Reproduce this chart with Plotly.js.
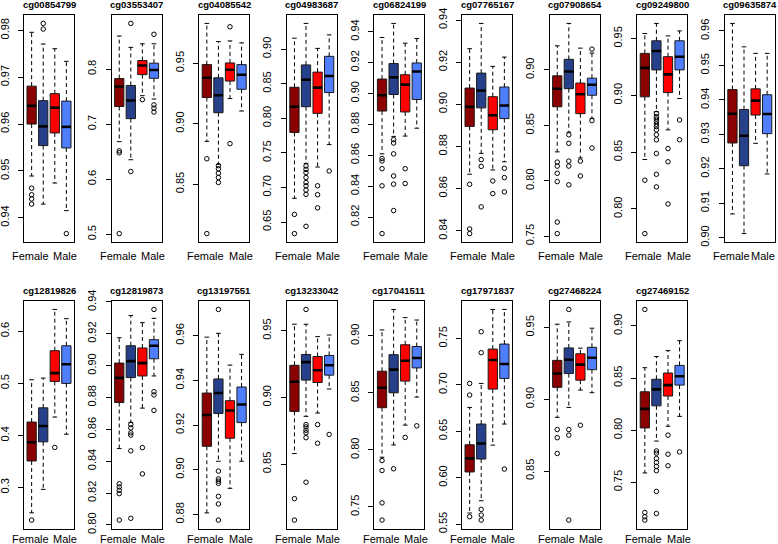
<!DOCTYPE html>
<html><head><meta charset="utf-8">
<script src="https://cdn.plot.ly/plotly-3.0.1.min.js"></script>
<style>html,body{margin:0;padding:0;background:#fff;overflow:hidden}#chart{width:778px;height:544px}</style>
</head><body><div id="chart"></div>
<script>
// ---------------- data ----------------
const probes = ['cg00854799','cg03553407','cg04085542','cg04983687','cg06824199','cg07765167','cg07908654','cg09249800','cg09635874',
                'cg12819826','cg12819873','cg13197551','cg13233042','cg17041511','cg17971837','cg27468224','cg27469152'];
const groups = ['Female (set 1)','Female (set 2)','Male (set 1)','Male (set 2)'];
const groupColors = ['#8B0000','#27408B','#FF0000','#4F7FFF'];
const xTickLabels = ['Female','Male'];
const xTickPositions = [1, 4];
const yTickStep = [0.01,0.1,0.05,0.05,0.02,0.02,0.05,0.05,0.01, 0.1,0.02,0.02,0.05,0.05,0.05,0.05,0.05];

const upperWhisker = [
 [0.9796,0.9771,0.9761,0.9734],[0.860,0.8394,0.8459,0.8459],[0.983,0.968,0.9685,0.9669],[0.9157,0.9371,0.901,0.9205],
 [0.9362,0.9453,0.9325,0.9355],[0.9264,0.9384,0.918,0.9224],[0.9218,0.942,0.9197,0.9152],[0.9544,0.9633,0.9523,0.9567],
 [0.9622,0.9554,0.9535,0.9535],[0.5068,0.51,0.6419,0.6241],[0.9175,0.9315,0.927,0.9297],[0.9593,0.961,0.9468,0.9516],
 [0.9549,0.9549,0.9456,0.9468],[0.9052,0.9232,0.916,0.9139],[0.6757,0.7015,0.7812,0.7812],[0.9523,0.9539,0.9356,0.9495],
 [0.8599,0.8706,0.8763,0.8858]];
const q3 = [
 [0.9681,0.9650,0.9665,0.9649],[0.7827,0.7702,0.8155,0.8107],[0.9489,0.938,0.9503,0.9489],[0.8448,0.8771,0.8667,0.8895],
 [0.9093,0.9193,0.9121,0.9197],[0.9077,0.9148,0.9036,0.9082],[0.8947,0.9096,0.8882,0.8926],[0.9369,0.948,0.934,0.948],
 [0.943,0.9372,0.9432,0.9415],[0.4256,0.4529,0.5626,0.5721],[0.9016,0.9125,0.9111,0.9163],[0.9343,0.9406,0.9309,0.937],
 [0.9241,0.9322,0.9307,0.9315],[0.869,0.8835,0.8922,0.8907],[0.6355,0.6578,0.7385,0.7439],[0.9271,0.9358,0.9317,0.9362],
 [0.8368,0.8488,0.8548,0.8621]];
const median = [
 [0.9639,0.9595,0.9635,0.9594],[0.7684,0.7428,0.8066,0.7982],[0.938,0.9236,0.9446,0.9405],[0.8167,0.8557,0.8443,0.861],
 [0.8988,0.9104,0.9057,0.9142],[0.8988,0.9065,0.8948,0.8994],[0.8831,0.8986,0.8781,0.8867],[0.9242,0.939,0.9184,0.934],
 [0.936,0.9296,0.9398,0.9359],[0.3869,0.418,0.5195,0.5366],[0.8923,0.9028,0.9016,0.9125],[0.9245,0.9343,0.9265,0.9292],
 [0.9117,0.9265,0.9204,0.9241],[0.8545,0.8704,0.8782,0.8806],[0.6208,0.6369,0.7267,0.7224],[0.9179,0.9275,0.9241,0.9289],
 [0.8204,0.8391,0.8432,0.8517]];
const q1 = [
 [0.9600,0.9554,0.9581,0.9549],[0.7320,0.7100,0.7899,0.7833],[0.9217,0.9091,0.9353,0.9285],[0.7795,0.8167,0.8071,0.8371],
 [0.8886,0.8993,0.888,0.8961],[0.8895,0.8983,0.8879,0.8932],[0.8668,0.8831,0.8606,0.8772],[0.8987,0.9224,0.9024,0.9224],
 [0.9275,0.9209,0.9356,0.9302],[0.3508,0.3876,0.5036,0.4998],[0.8768,0.8925,0.8935,0.9043],[0.9105,0.9252,0.9141,0.9211],
 [0.8895,0.913,0.9112,0.9167],[0.837,0.8501,0.8603,0.8719],[0.6062,0.6201,0.6954,0.7069],[0.9083,0.9179,0.9133,0.9206],
 [0.8021,0.8233,0.8327,0.8432]];
const lowerWhisker = [
 [0.9489,0.9429,0.9474,0.9415],[0.6682,0.6354,0.7517,0.7457],[0.8854,0.8664,0.9208,0.9105],[0.6843,0.7348,0.7295,0.7619],
 [0.8609,0.8722,0.8724,0.8775],[0.8668,0.8767,0.8688,0.8727],[0.8261,0.8439,0.8207,0.8564],[0.8435,0.8856,0.8696,0.8972],
 [0.9069,0.9012,0.9274,0.9185],[0.2512,0.2963,0.4351,0.4022],[0.8479,0.8644,0.8733,0.8935],[0.8807,0.9038,0.8917,0.9038],
 [0.8579,0.8858,0.8883,0.9063],[0.7935,0.8043,0.8217,0.8463],[0.562,0.5752,0.6351,0.6578],[0.8874,0.8943,0.9064,0.9046],
 [0.7589,0.7895,0.8037,0.8132]];
const outliers = [
 [[0.9463,0.9449,0.9440,0.9429],[0.9815,0.9803],[],[0.9366]],
 [[0.6515,0.648,0.5013],[0.614,0.8829],[0.7445],[0.8632,0.735,0.729,0.7219]],
 [[0.871,0.8091],[0.8653,0.8627,0.859,0.8555,0.8514],[0.9802,0.8835],[]],
 [[0.661,0.6333],[0.731,0.7262,0.7214,0.7143,0.7071,0.7024,0.6962,0.69,0.6438],[0.7024,0.6895,0.6705],[0.7238]],
 [[0.8579,0.8563,0.8513,0.8402,0.8093],[0.8701,0.8679,0.8609,0.8466,0.8413,0.8242],[0.8513,0.8417],[]],
 [[0.862,0.8408,0.8386],[0.8737,0.8705,0.8513],[0.8636,0.8576],[0.8696,0.8652,0.8584]],
 [[0.8169,0.8133,0.8068,0.7993,0.7628,0.7524],[0.8415,0.8338,0.8178,0.8133,0.7964],[0.8178,0.8044],[0.9188,0.8543,0.8296]],
 [[0.8253,0.7783],[0.8841,0.8812,0.8792,0.8769,0.8746,0.8725,0.8696,0.8653,0.8609,0.8488,0.8305,0.8194],[0.8531,0.8415,0.8044],[0.8783,0.8609]],
 [[],[],[],[]],
 [[0.2373],[],[0.3768],[]],
 [[0.8258,0.8238,0.8217,0.8196,0.803],[0.863,0.8609,0.8578,0.8564,0.8465,0.8041],[0.8485,0.832],[0.9353,0.8836,0.8816,0.8719]],
 [[],[0.9717,0.8994,0.8959,0.8949,0.8939,0.8881,0.8847,0.8775],[],[]],
 [[0.8241,0.808],[0.966,0.8796,0.8779,0.8754,0.8735,0.8698,0.8364],[0.8796,0.8656],[0.8722]],
 [[0.7906,0.7819,0.7535,0.7384],[0.7834],[0.8109],[0.8211]],
 [[0.7015,0.689,0.558],[0.7572,0.7346,0.5659,0.5598,0.5544],[],[0.6093]],
 [[0.8789,0.8732,0.8622],[0.9626,0.8789,0.875,0.8158],[0.8819],[]],
 [[0.9158,0.721,0.7169,0.7137],[0.78,0.7778,0.7727,0.769,0.7652,0.7611,0.7412,0.72],[0.7952,0.7769,0.7658],[0.7791]]
];

// ---------------- layout geometry (pixels) ----------------
const W = 778, H = 544;
const FONT = 'Liberation Sans, Arial, Helvetica, sans-serif';
const colLeft0 = 24, colStep = 87.6, frameW = 50;
const rowTop = [15, 301], rowBottom = [242, 528.5], titleY = [4.5, 290], xLabelY = [256, 538.5];
const boxWidth = 0.8, capHalf = 0.2, xRange = [0.34, 4.66];
const labelSize = 11, labelHalfWidth = {Female: 18.5, Male: 12};

const traces = [];
const layout = {
  width: W, height: H, margin: {l:0, r:0, t:0, b:0},
  paper_bgcolor: '#fff', plot_bgcolor: '#fff', showlegend: false,
  font: {family: FONT, color: '#000'}, annotations: []
};

probes.forEach((name, p) => {
  const row = p < 9 ? 0 : 1, col = p < 9 ? p : p - 9;
  const k = p + 1;
  const xa = k === 1 ? 'x' : 'x' + k, ya = k === 1 ? 'y' : 'y' + k;
  const left = colLeft0 + col * colStep;

  // data range (R style, 4% extension)
  let vals = [];
  for (let g = 0; g < 4; g++) {
    vals.push(upperWhisker[p][g], lowerWhisker[p][g], ...outliers[p][g]);
  }
  const mn = Math.min(...vals), mx = Math.max(...vals), ext = (mx - mn) * 0.04;
  const step = yTickStep[p];
  const dec = step >= 0.1 ? 1 : 2;

  layout['xaxis' + (k === 1 ? '' : k)] = {
    domain: [left / W, (left + frameW) / W], anchor: ya, range: xRange,
    showline: true, mirror: true, linecolor: '#000', linewidth: 1,
    showgrid: false, zeroline: false, ticks: '', showticklabels: false, fixedrange: true
  };
  layout['yaxis' + (k === 1 ? '' : k)] = {
    domain: [1 - rowBottom[row] / H, 1 - rowTop[row] / H], anchor: xa, range: [mn - ext, mx + ext],
    showline: true, mirror: true, linecolor: '#000', linewidth: 1,
    showgrid: false, zeroline: false, ticks: 'outside', ticklen: 5, tickwidth: 1, tickcolor: '#000',
    tick0: 0, dtick: step, tickformat: '.' + dec + 'f', tickangle: -90,
    tickfont: {family: FONT, size: labelSize, color: '#000'}, ticklabelstandoff: 5,
    ticklabeloverflow: 'allow', fixedrange: true
  };
  layout.annotations.push({
    xref: 'paper', yref: 'paper', x: (left + frameW / 2) / W, y: 1 - titleY[row] / H,
    xanchor: 'center', yanchor: 'middle', showarrow: false,
    text: '<b>' + name + '</b>', font: {family: FONT, size: 9.5, color: '#000'}
  });
  // group labels under the boxes (placed through the panel's x scale, kept inside the page)
  xTickLabels.forEach((lab, i) => {
    const cpx = left + (xTickPositions[i] - xRange[0]) / (xRange[1] - xRange[0]) * frameW;
    const half = labelHalfWidth[lab] || 15;
    const rightPx = Math.min(cpx + half, W - 2);
    layout.annotations.push({
      xref: 'paper', yref: 'paper', x: rightPx / W, y: 1 - xLabelY[row] / H,
      xanchor: 'right', yanchor: 'middle', showarrow: false, borderpad: 0,
      text: lab, font: {family: FONT, size: labelSize, color: '#000'}
    });
  });

  // whiskers (dashed), caps, medians, outliers
  const wx = [], wy = [], cx = [], cy = [], mxs = [], mys = [], ox = [], oy = [];
  for (let g = 0; g < 4; g++) {
    const pos = g + 1;
    wx.push(pos, pos, null, pos, pos, null);
    wy.push(q3[p][g], upperWhisker[p][g], null, q1[p][g], lowerWhisker[p][g], null);
    cx.push(pos - capHalf, pos + capHalf, null, pos - capHalf, pos + capHalf, null);
    cy.push(upperWhisker[p][g], upperWhisker[p][g], null, lowerWhisker[p][g], lowerWhisker[p][g], null);
    mxs.push(pos - boxWidth / 2, pos + boxWidth / 2, null);
    mys.push(median[p][g], median[p][g], null);
    outliers[p][g].forEach(v => { ox.push(pos); oy.push(v); });
  }
  traces.push({type:'scatter', mode:'lines', x:wx, y:wy, xaxis:xa, yaxis:ya,
    line:{color:'#000', width:1, dash:'4px,3px'}, hoverinfo:'skip'});
  traces.push({type:'scatter', mode:'lines', x:cx, y:cy, xaxis:xa, yaxis:ya,
    line:{color:'#000', width:1}, hoverinfo:'skip'});
  for (let g = 0; g < 4; g++) {
    traces.push({
      type:'box', name: groups[g], x:[g + 1], q1:[q1[p][g]], median:[median[p][g]], q3:[q3[p][g]],
      lowerfence:[q1[p][g]], upperfence:[q3[p][g]], width: boxWidth, whiskerwidth: 0,
      fillcolor: groupColors[g], line:{color:'#1a1a1a', width:1}, boxpoints:false,
      xaxis:xa, yaxis:ya, hoverinfo:'skip'
    });
  }
  traces.push({type:'scatter', mode:'lines', x:mxs, y:mys, xaxis:xa, yaxis:ya,
    line:{color:'#000', width:2.6}, hoverinfo:'skip'});
  traces.push({type:'scatter', mode:'markers', x:ox, y:oy, xaxis:xa, yaxis:ya,
    marker:{symbol:'circle-open', size:4.5, color:'#000', line:{width:1, color:'#000'}}, hoverinfo:'skip'});
});

Plotly.newPlot('chart', traces, layout, {staticPlot: true, displayModeBar: false});
</script>
</body></html>
